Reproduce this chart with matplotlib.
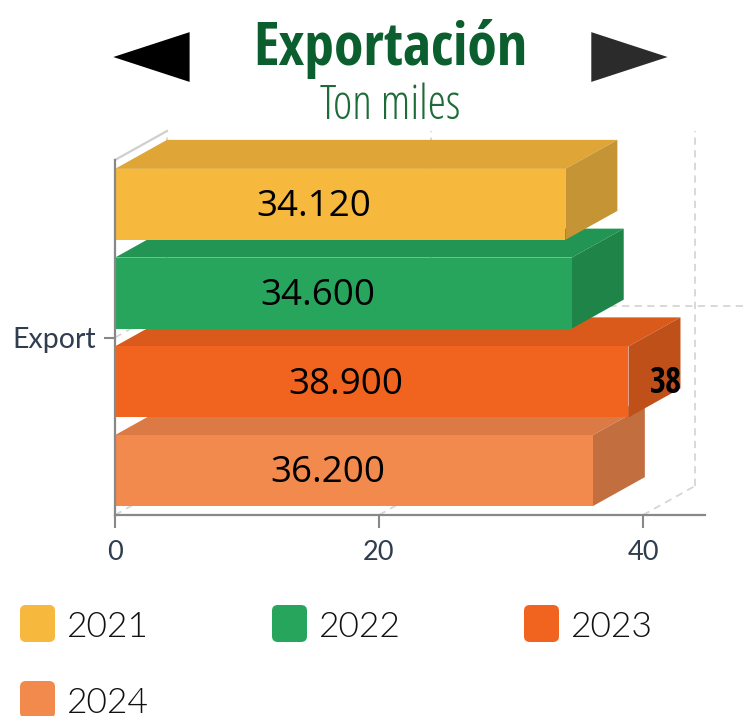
import matplotlib.pyplot as plt
from matplotlib.patches import Polygon, Rectangle, FancyBboxPatch

# data
categoria = "Export"
anios = ["2021", "2022", "2023", "2024"]
valores = [34.12, 34.6, 38.9, 36.2]
etiquetas = ["34.120", "34.600", "38.900", "36.200"]
ticks_x = [0, 20, 40]

# colores (frente, techo, lado)
c_frente = ["#F6B83D", "#27A55D", "#F0641F", "#F2894D"]
c_techo = ["#DFA637", "#229453", "#D95A1B", "#DB7A44"]
c_lado = ["#C59434", "#1E8448", "#C0501A", "#C26E3E"]

cond = ["Open Sans Condensed", "DejaVu Sans"]

W, H = 748, 716
fig = plt.figure(figsize=(W / 100, H / 100), dpi=100)
ax = fig.add_axes([115 / W, (H - 515) / H, 590 / W, 385 / H])

xmax = 590 / 13.2
ax.set_xlim(0, xmax)
ax.set_ylim(-0.5, 0.5 + 30 / 355)

# profundidad 3D
dx = 52 / 13.2
dy = 29 / 355
paso = 0.25
alto = 0.2

# paredes / grilla
gris = "#D6D6D6"
for v in ticks_x:
    ax.plot([v, v + dx], [-0.5, -0.5 + dy], ls=(0, (4, 3)), color=gris, lw=1.3, zorder=1)
    ax.plot([v + dx, v + dx], [-0.5 + dy, 0.5 + dy], ls=(0, (4, 3)), color=gris, lw=1.3, zorder=1)
ax.plot([0, dx], [0, dy], ls=(0, (4, 3)), color=gris, lw=1.3, zorder=1)
ax.plot([dx, (748 - 115) / 13.2], [dy + 0.008, dy + 0.008], ls=(0, (4, 3)), color=gris, lw=1.3,
        zorder=1, clip_on=False)
ax.plot([0, dx], [0.5, 0.5 + dy], color="#CFCFCF", lw=1.6, zorder=1, clip_on=False)

# barras 3D
for i, (v, lab) in enumerate(zip(valores, etiquetas)):
    yc = (1.5 - i) * paso
    y0, y1 = yc - alto / 2, yc + alto / 2
    z = 10 - i
    ax.add_patch(Polygon([(0, y1), (v, y1), (v + dx, y1 + dy), (dx, y1 + dy)],
                         closed=True, fc=c_techo[i], ec="none", zorder=z))
    ax.add_patch(Polygon([(v, y0), (v, y1), (v + dx, y1 + dy), (v + dx, y0 + dy)],
                         closed=True, fc=c_lado[i], ec="none", zorder=z))
    ax.add_patch(Rectangle((0, y0), v, alto, fc=c_frente[i], ec="none", zorder=z))
    ax.text(v / 2 - dx / 2, yc - 0.008, lab, ha="center", va="center", fontsize=26.5,
            family="Open Sans", color="black", zorder=20)

# etiqueta sobre el lado de 2023
ax.text(valores[2] + dx * 0.72, (1.5 - 2) * paso - 0.006, "38", ha="center", va="center",
        fontsize=25, fontweight="bold", family=cond, color="black", zorder=20)

# ejes
for s in ["top", "right"]:
    ax.spines[s].set_visible(False)
ax.spines["left"].set_bounds(-0.5, 0.5)
ax.spines["left"].set_color("#888888")
ax.spines["bottom"].set_color("#888888")
ax.spines["left"].set_linewidth(1.6)
ax.spines["bottom"].set_linewidth(1.6)
ax.spines["left"].set_zorder(30)
ax.set_xticks(ticks_x)
ax.set_xticklabels([str(t) for t in ticks_x])
ax.set_yticks([0])
ax.set_yticklabels([categoria])
ax.tick_params(axis="x", length=9, width=1.5, color="#888888", pad=9,
               labelsize=19.5, labelcolor="#2F3D4F")
ax.tick_params(axis="y", length=8, width=1.5, color="#888888", pad=6,
               labelsize=20.5, labelcolor="#2F3D4F")
for t in ax.get_xticklabels() + ax.get_yticklabels():
    t.set_family("Lato")

# titulo
fig.text(390 / W, 1 - 65 / H, "Exportación", ha="center", va="baseline", fontsize=43,
         fontweight="bold", family=cond, color="#0B5E2E")
fig.text(390 / W, 1 - 119 / H, "Ton miles", ha="center", va="baseline", fontsize=33.5,
         fontweight=300, fontstretch="condensed", family="Open Sans", color="#1E6B3A")
fig.text(151 / W, 1 - 56 / H, "◄", ha="center", va="center", fontsize=72,
         family="DejaVu Sans", color="black")
fig.text(629 / W, 1 - 56 / H, "►", ha="center", va="center", fontsize=72,
         family="DejaVu Sans", color="#2B2B2B")

# leyenda
pos = [(20, 624), (272, 624), (524, 624), (20, 700)]
for i, (anio, (px, py)) in enumerate(zip(anios, pos)):
    fig.patches.append(FancyBboxPatch((px / W, 1 - (py + 18) / H), 35 / W, 37 / H,
                                      boxstyle="round,pad=0,rounding_size=0.008",
                                      transform=fig.transFigure, fc=c_frente[i], ec="none"))
    fig.text((px + 47) / W, 1 - (py + 3) / H, anio, ha="left", va="center", fontsize=25.5,
             family="Lato", fontweight=300, color="#111111")

fig.savefig("out.png", dpi=100)
